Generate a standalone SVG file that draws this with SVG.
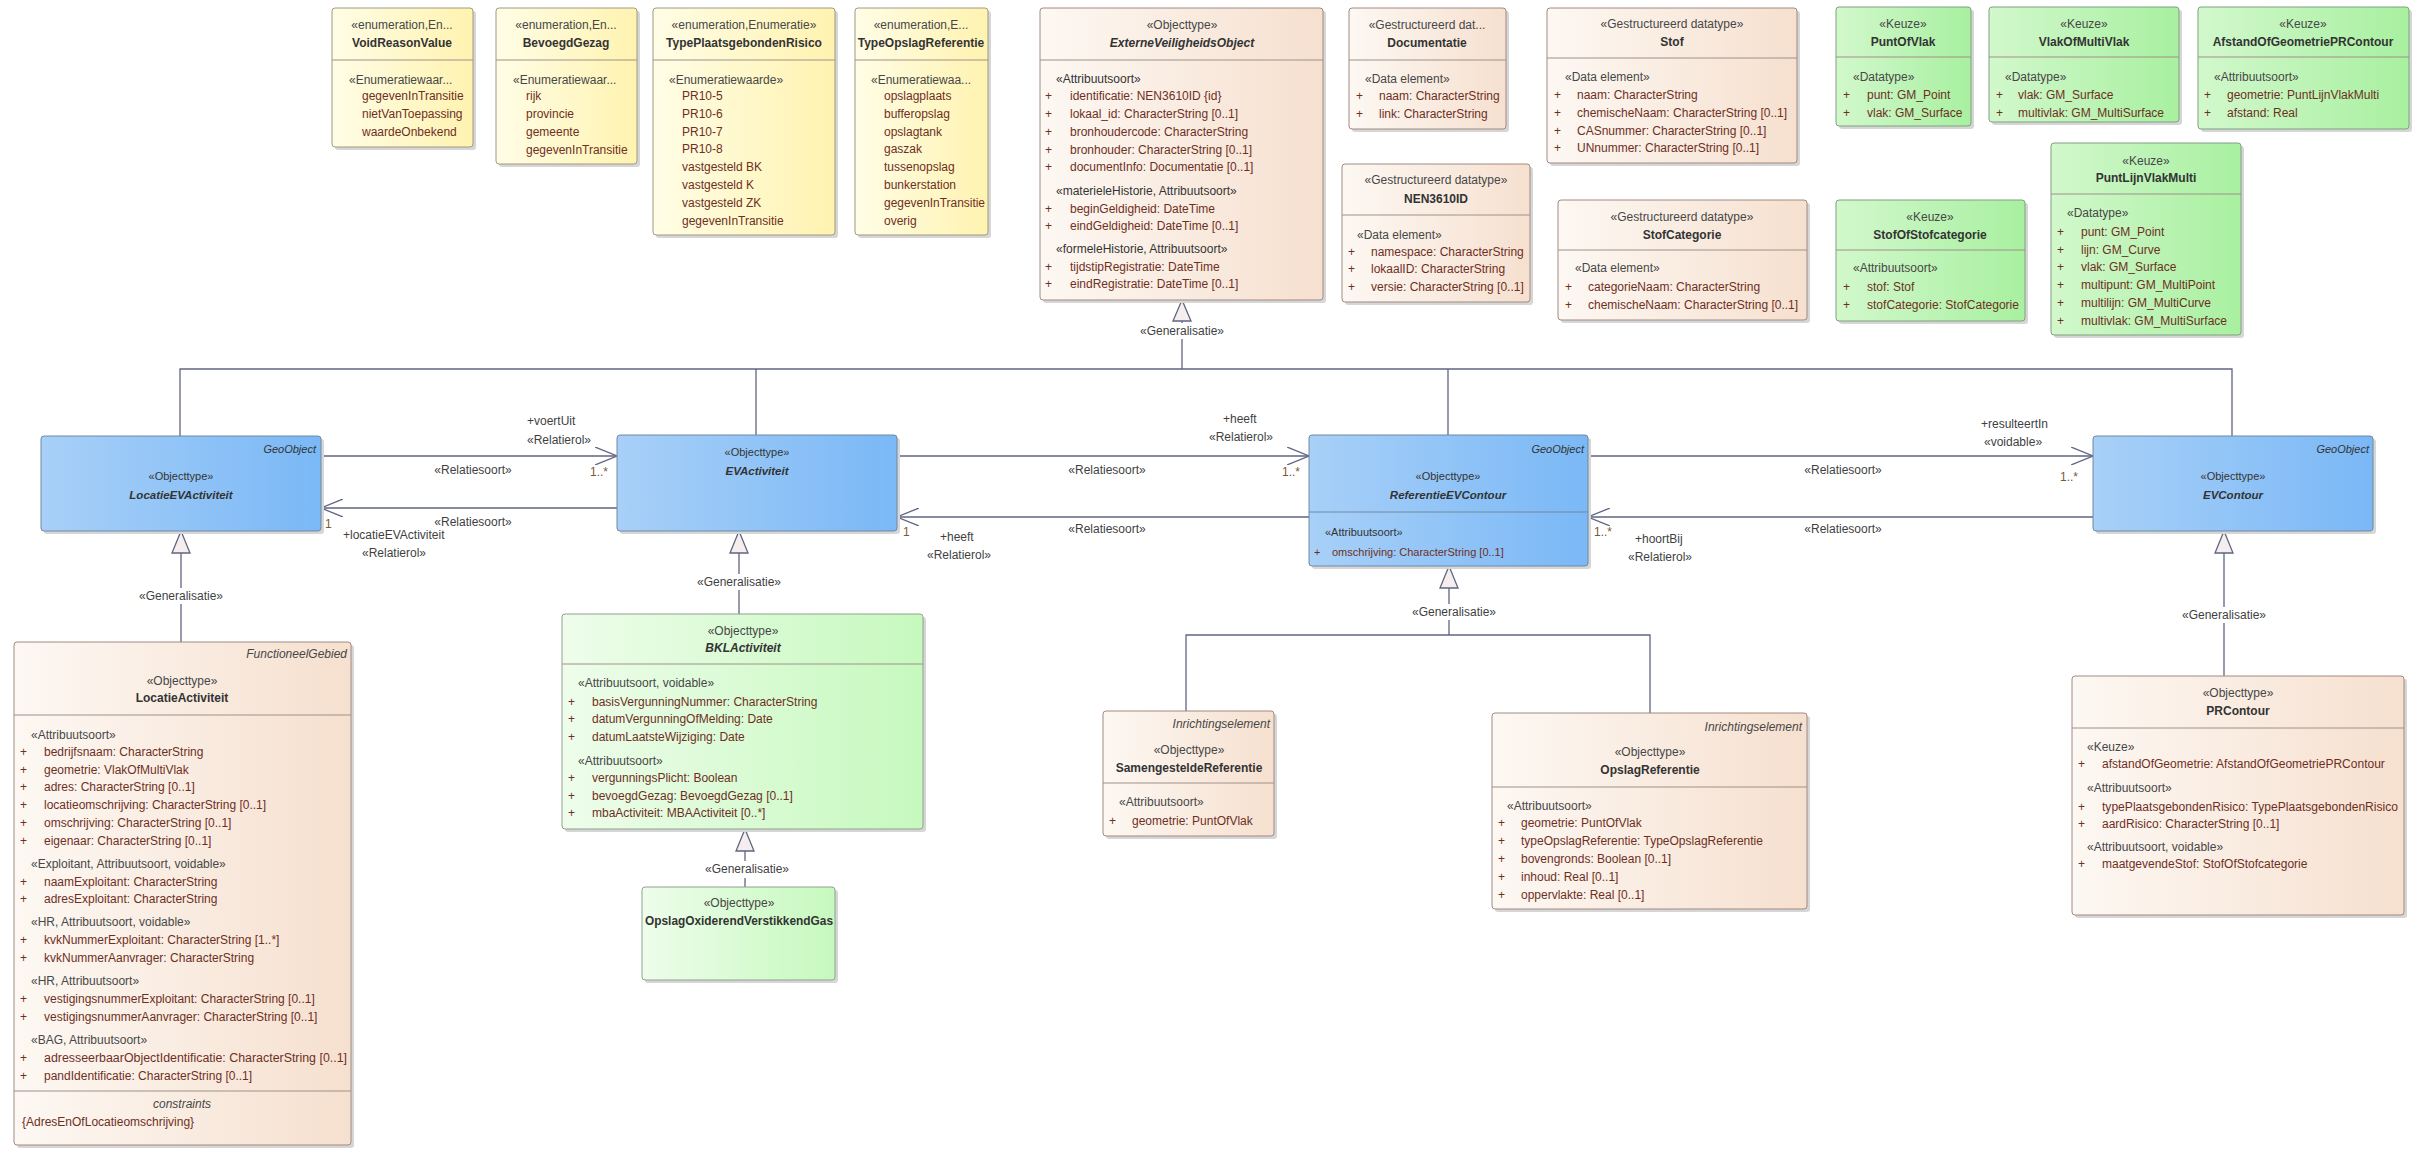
<svg xmlns="http://www.w3.org/2000/svg" width="2428" height="1162" viewBox="0 0 2428 1162">
<defs>
<linearGradient id="gY" x1="0" y1="0" x2="1" y2="0"><stop offset="0" stop-color="#fffde6"/><stop offset="1" stop-color="#fff3b0"/></linearGradient>
<linearGradient id="gB" x1="0" y1="0" x2="1" y2="0"><stop offset="0" stop-color="#fdf8f3"/><stop offset="1" stop-color="#f6e0cf"/></linearGradient>
<linearGradient id="gG" x1="0" y1="0" x2="1" y2="0"><stop offset="0" stop-color="#d2f8cc"/><stop offset="1" stop-color="#a8f0a0"/></linearGradient>
<linearGradient id="gL" x1="0" y1="0" x2="1" y2="0"><stop offset="0" stop-color="#eefdeb"/><stop offset="1" stop-color="#c6f9be"/></linearGradient>
<linearGradient id="gBl" x1="0" y1="0" x2="1" y2="0"><stop offset="0" stop-color="#a8d0f8"/><stop offset="1" stop-color="#7ab8f6"/></linearGradient>
<marker id="open" markerUnits="userSpaceOnUse" viewBox="0 0 22 18" refX="22" refY="9" markerWidth="22" markerHeight="18" orient="auto"><path d="M0,0 L22,9 L0,18" fill="none" stroke="#5f6580" stroke-width="1.3"/></marker>
</defs>
<style>
text{font-family:"Liberation Sans",Arial,sans-serif;font-size:12px;fill:#333}
.m{text-anchor:middle}.e{text-anchor:end}
.b{font-weight:bold}.i{font-style:italic}
.s{fill:#474747}.a{fill:#6e2f1f}
.sm{font-size:11px}
.bn{font-size:11.5px}
.lb{fill:#3f3f3f}.mu{fill:#7a5a30}
.sh{fill:#d6d6d6}
.ry{fill:url(#gY);stroke:#a09a80;stroke-width:1}
.rb{fill:url(#gB);stroke:#a08a80;stroke-width:1}
.rg{fill:url(#gG);stroke:#80a080;stroke-width:1}
.rl{fill:url(#gL);stroke:#90a090;stroke-width:1}
.rbl{fill:url(#gBl);stroke:#7088a0;stroke-width:1}
.dv{stroke:#a09088;stroke-width:1}
.cn{stroke:#5f6580;stroke-width:1.3;fill:none}
.tri{fill:#f6eeee;stroke:#5f6580;stroke-width:1.3}
</style>
<rect width="2428" height="1162" fill="#ffffff"/>

<g id="connectors">
<line class="cn" x1="321" y1="456" x2="617" y2="456" marker-end="url(#open)"/>
<line class="cn" x1="617" y1="508" x2="321" y2="508" marker-end="url(#open)"/>
<line class="cn" x1="897" y1="456" x2="1309" y2="456" marker-end="url(#open)"/>
<line class="cn" x1="1309" y1="517" x2="897" y2="517" marker-end="url(#open)"/>
<line class="cn" x1="1588" y1="456" x2="2093" y2="456" marker-end="url(#open)"/>
<line class="cn" x1="2093" y1="517" x2="1588" y2="517" marker-end="url(#open)"/>
<text class="lb" x="527" y="425">+voertUit</text>
<text class="lb" x="527" y="444">«Relatierol»</text>
<text class="lb m" x="473" y="474">«Relatiesoort»</text>
<text class="mu" x="590" y="476">1..*</text>
<text class="lb m" x="473" y="526">«Relatiesoort»</text>
<text class="mu" x="325" y="528">1</text>
<text class="lb" x="343" y="539">+locatieEVActiviteit</text>
<text class="lb" x="362" y="557">«Relatierol»</text>
<text class="lb" x="1223" y="423">+heeft</text>
<text class="lb" x="1209" y="441">«Relatierol»</text>
<text class="lb m" x="1107" y="474">«Relatiesoort»</text>
<text class="mu" x="1282" y="476">1..*</text>
<text class="lb m" x="1107" y="533">«Relatiesoort»</text>
<text class="mu" x="903" y="536">1</text>
<text class="lb" x="940" y="541">+heeft</text>
<text class="lb" x="927" y="559">«Relatierol»</text>
<text class="lb" x="1981" y="428">+resulteertIn</text>
<text class="lb" x="1984" y="446">«voidable»</text>
<text class="lb m" x="1843" y="474">«Relatiesoort»</text>
<text class="mu" x="2060" y="481">1..*</text>
<text class="lb m" x="1843" y="533">«Relatiesoort»</text>
<text class="mu" x="1594" y="536">1..*</text>
<text class="lb" x="1635" y="543">+hoortBij</text>
<text class="lb" x="1628" y="561">«Relatierol»</text>
<polyline class="cn" points="1182,321 1182,323"/>
<polyline class="cn" points="1182,339 1182,369"/>
<polyline class="cn" points="180,436 180,369 2232,369 2232,436"/>
<line class="cn" x1="756" y1="369" x2="756" y2="435"/>
<line class="cn" x1="1448" y1="369" x2="1448" y2="435"/>
<polygon class="tri" points="1182,300 1173,321 1191,321"/>
<text class="lb m" x="1182" y="335">«Generalisatie»</text>
<line class="cn" x1="181" y1="553" x2="181" y2="588"/>
<line class="cn" x1="181" y1="604" x2="181" y2="642"/>
<polygon class="tri" points="181,531 172,553 190,553"/>
<text class="lb m" x="181" y="600">«Generalisatie»</text>
<line class="cn" x1="739" y1="553" x2="739" y2="574"/>
<line class="cn" x1="739" y1="590" x2="739" y2="614"/>
<polygon class="tri" points="739,531 730,553 748,553"/>
<text class="lb m" x="739" y="586">«Generalisatie»</text>
<line class="cn" x1="1449" y1="588" x2="1449" y2="604"/>
<polyline class="cn" points="1186,711 1186,635 1650,635 1650,713"/>
<line class="cn" x1="1449" y1="620" x2="1449" y2="635"/>
<polygon class="tri" points="1449,566 1440,588 1458,588"/>
<text class="lb m" x="1454" y="616">«Generalisatie»</text>
<line class="cn" x1="2224" y1="553" x2="2224" y2="607"/>
<line class="cn" x1="2224" y1="623" x2="2224" y2="676"/>
<polygon class="tri" points="2224,531 2215,553 2233,553"/>
<text class="lb m" x="2224" y="619">«Generalisatie»</text>
<line class="cn" x1="745" y1="851" x2="745" y2="861"/>
<line class="cn" x1="745" y1="878" x2="745" y2="887"/>
<polygon class="tri" points="745,829 736,851 754,851"/>
<text class="lb m" x="747" y="873">«Generalisatie»</text>
</g>

<g id="VoidReasonValue">
<rect class="sh" x="335" y="11" width="141" height="139" rx="3"/>
<rect class="ry" x="332" y="8" width="141" height="139" rx="3"/>
<line class="dv" x1="332" y1="60" x2="473" y2="60"/>
<text class="s m" x="402" y="29">«enumeration,En...</text>
<text class="b m" x="402" y="47">VoidReasonValue</text>
<text class="s" x="349" y="84">«Enumeratiewaar...</text>
<text class="a" x="362" y="100">gegevenInTransitie</text>
<text class="a" x="362" y="118">nietVanToepassing</text>
<text class="a" x="362" y="136">waardeOnbekend</text>
</g>

<g id="BevoegdGezag">
<rect class="sh" x="499" y="11" width="141" height="156" rx="3"/>
<rect class="ry" x="496" y="8" width="141" height="156" rx="3"/>
<line class="dv" x1="496" y1="60" x2="637" y2="60"/>
<text class="s m" x="566" y="29">«enumeration,En...</text>
<text class="b m" x="566" y="47">BevoegdGezag</text>
<text class="s" x="513" y="84">«Enumeratiewaar...</text>
<text class="a" x="526" y="100">rijk</text>
<text class="a" x="526" y="118">provincie</text>
<text class="a" x="526" y="136">gemeente</text>
<text class="a" x="526" y="154">gegevenInTransitie</text>
</g>

<g id="TypePlaatsgebondenRisico">
<rect class="sh" x="656" y="11" width="182" height="227" rx="3"/>
<rect class="ry" x="653" y="8" width="182" height="227" rx="3"/>
<line class="dv" x1="653" y1="60" x2="835" y2="60"/>
<text class="s m" x="744" y="29">«enumeration,Enumeratie»</text>
<text class="b m" x="744" y="47">TypePlaatsgebondenRisico</text>
<text class="s" x="669" y="84">«Enumeratiewaarde»</text>
<text class="a" x="682" y="100">PR10-5</text>
<text class="a" x="682" y="118">PR10-6</text>
<text class="a" x="682" y="136">PR10-7</text>
<text class="a" x="682" y="153">PR10-8</text>
<text class="a" x="682" y="171">vastgesteld BK</text>
<text class="a" x="682" y="189">vastgesteld K</text>
<text class="a" x="682" y="207">vastgesteld ZK</text>
<text class="a" x="682" y="225">gegevenInTransitie</text>
</g>

<g id="TypeOpslagReferentie">
<rect class="sh" x="858" y="11" width="133" height="227" rx="3"/>
<rect class="ry" x="855" y="8" width="133" height="227" rx="3"/>
<line class="dv" x1="855" y1="60" x2="988" y2="60"/>
<text class="s m" x="921" y="29">«enumeration,E...</text>
<text class="b m" x="921" y="47">TypeOpslagReferentie</text>
<text class="s" x="871" y="84">«Enumeratiewaa...</text>
<text class="a" x="884" y="100">opslagplaats</text>
<text class="a" x="884" y="118">bufferopslag</text>
<text class="a" x="884" y="136">opslagtank</text>
<text class="a" x="884" y="153">gaszak</text>
<text class="a" x="884" y="171">tussenopslag</text>
<text class="a" x="884" y="189">bunkerstation</text>
<text class="a" x="884" y="207" textLength="101" lengthAdjust="spacingAndGlyphs">gegevenInTransitie</text>
<text class="a" x="884" y="225">overig</text>
</g>

<g id="ExterneVeiligheidsObject">
<rect class="sh" x="1043" y="11" width="283" height="292" rx="3"/>
<rect class="rb" x="1040" y="8" width="283" height="292" rx="3"/>
<line class="dv" x1="1040" y1="60" x2="1323" y2="60"/>
<text class="s m" x="1182" y="29">«Objecttype»</text>
<text class="b i m" x="1182" y="47">ExterneVeiligheidsObject</text>
<text x="1056" y="83">«Attribuutsoort»</text>
<text class="a" x="1045" y="100">+</text><text class="a" x="1070" y="100">identificatie: NEN3610ID {id}</text>
<text class="a" x="1045" y="118">+</text><text class="a" x="1070" y="118">lokaal_id: CharacterString [0..1]</text>
<text class="a" x="1045" y="136">+</text><text class="a" x="1070" y="136">bronhoudercode: CharacterString</text>
<text class="a" x="1045" y="154">+</text><text class="a" x="1070" y="154">bronhouder: CharacterString [0..1]</text>
<text class="a" x="1045" y="171">+</text><text class="a" x="1070" y="171">documentInfo: Documentatie [0..1]</text>
<text x="1056" y="195">«materieleHistorie, Attribuutsoort»</text>
<text class="a" x="1045" y="213">+</text><text class="a" x="1070" y="213">beginGeldigheid: DateTime</text>
<text class="a" x="1045" y="230">+</text><text class="a" x="1070" y="230">eindGeldigheid: DateTime [0..1]</text>
<text x="1056" y="253">«formeleHistorie, Attribuutsoort»</text>
<text class="a" x="1045" y="271">+</text><text class="a" x="1070" y="271">tijdstipRegistratie: DateTime</text>
<text class="a" x="1045" y="288">+</text><text class="a" x="1070" y="288">eindRegistratie: DateTime [0..1]</text>
</g>

<g id="Documentatie">
<rect class="sh" x="1352" y="11" width="157" height="121" rx="3"/>
<rect class="rb" x="1349" y="8" width="157" height="121" rx="3"/>
<line class="dv" x1="1349" y1="60" x2="1506" y2="60"/>
<text class="s m" x="1427" y="29">«Gestructureerd dat...</text>
<text class="b m" x="1427" y="47">Documentatie</text>
<text class="s" x="1365" y="83">«Data element»</text>
<text class="a" x="1356" y="100">+</text><text class="a" x="1379" y="100">naam: CharacterString</text>
<text class="a" x="1356" y="118">+</text><text class="a" x="1379" y="118">link: CharacterString</text>
</g>

<g id="NEN3610ID">
<rect class="sh" x="1345" y="167" width="188" height="138" rx="3"/>
<rect class="rb" x="1342" y="164" width="188" height="138" rx="3"/>
<line class="dv" x1="1342" y1="215" x2="1530" y2="215"/>
<text class="s m" x="1436" y="184">«Gestructureerd datatype»</text>
<text class="b m" x="1436" y="203">NEN3610ID</text>
<text class="s" x="1357" y="239">«Data element»</text>
<text class="a" x="1348" y="256">+</text><text class="a" x="1371" y="256">namespace: CharacterString</text>
<text class="a" x="1348" y="273">+</text><text class="a" x="1371" y="273">lokaalID: CharacterString</text>
<text class="a" x="1348" y="291">+</text><text class="a" x="1371" y="291">versie: CharacterString [0..1]</text>
</g>

<g id="Stof">
<rect class="sh" x="1550" y="11" width="250" height="155" rx="3"/>
<rect class="rb" x="1547" y="8" width="250" height="155" rx="3"/>
<line class="dv" x1="1547" y1="58" x2="1797" y2="58"/>
<text class="s m" x="1672" y="28">«Gestructureerd datatype»</text>
<text class="b m" x="1672" y="46">Stof</text>
<text class="s" x="1565" y="81">«Data element»</text>
<text class="a" x="1554" y="99">+</text><text class="a" x="1577" y="99">naam: CharacterString</text>
<text class="a" x="1554" y="117">+</text><text class="a" x="1577" y="117">chemischeNaam: CharacterString [0..1]</text>
<text class="a" x="1554" y="135">+</text><text class="a" x="1577" y="135">CASnummer: CharacterString [0..1]</text>
<text class="a" x="1554" y="152">+</text><text class="a" x="1577" y="152">UNnummer: CharacterString [0..1]</text>
</g>

<g id="StofCategorie">
<rect class="sh" x="1561" y="203" width="249" height="120" rx="3"/>
<rect class="rb" x="1558" y="200" width="249" height="120" rx="3"/>
<line class="dv" x1="1558" y1="250" x2="1807" y2="250"/>
<text class="s m" x="1682" y="221">«Gestructureerd datatype»</text>
<text class="b m" x="1682" y="239">StofCategorie</text>
<text class="s" x="1575" y="272">«Data element»</text>
<text class="a" x="1565" y="291">+</text><text class="a" x="1588" y="291">categorieNaam: CharacterString</text>
<text class="a" x="1565" y="309">+</text><text class="a" x="1588" y="309">chemischeNaam: CharacterString [0..1]</text>
</g>

<g id="PuntOfVlak">
<rect class="sh" x="1839" y="10" width="135" height="119" rx="3"/>
<rect class="rg" x="1836" y="7" width="135" height="119" rx="3"/>
<line class="dv" x1="1836" y1="57" x2="1971" y2="57"/>
<text class="s m" x="1903" y="28">«Keuze»</text>
<text class="b m" x="1903" y="46">PuntOfVlak</text>
<text class="s" x="1853" y="81">«Datatype»</text>
<text class="a" x="1843" y="99">+</text><text class="a" x="1867" y="99">punt: GM_Point</text>
<text class="a" x="1843" y="117">+</text><text class="a" x="1867" y="117">vlak: GM_Surface</text>
</g>

<g id="VlakOfMultiVlak">
<rect class="sh" x="1992" y="10" width="190" height="115" rx="3"/>
<rect class="rg" x="1989" y="7" width="190" height="115" rx="3"/>
<line class="dv" x1="1989" y1="57" x2="2179" y2="57"/>
<text class="s m" x="2084" y="28">«Keuze»</text>
<text class="b m" x="2084" y="46">VlakOfMultiVlak</text>
<text class="s" x="2005" y="81">«Datatype»</text>
<text class="a" x="1996" y="99">+</text><text class="a" x="2018" y="99">vlak: GM_Surface</text>
<text class="a" x="1996" y="117">+</text><text class="a" x="2018" y="117">multivlak: GM_MultiSurface</text>
</g>

<g id="AfstandOfGeometriePRContour">
<rect class="sh" x="2201" y="10" width="211" height="122" rx="3"/>
<rect class="rg" x="2198" y="7" width="211" height="122" rx="3"/>
<line class="dv" x1="2198" y1="57" x2="2409" y2="57"/>
<text class="s m" x="2303" y="28">«Keuze»</text>
<text class="b m" x="2303" y="46">AfstandOfGeometriePRContour</text>
<text class="s" x="2214" y="81">«Attribuutsoort»</text>
<text class="a" x="2204" y="99">+</text><text class="a" x="2227" y="99">geometrie: PuntLijnVlakMulti</text>
<text class="a" x="2204" y="117">+</text><text class="a" x="2227" y="117">afstand: Real</text>
</g>

<g id="PuntLijnVlakMulti">
<rect class="sh" x="2054" y="146" width="190" height="192" rx="3"/>
<rect class="rg" x="2051" y="143" width="190" height="192" rx="3"/>
<line class="dv" x1="2051" y1="194" x2="2241" y2="194"/>
<text class="s m" x="2146" y="165">«Keuze»</text>
<text class="b m" x="2146" y="182">PuntLijnVlakMulti</text>
<text class="s" x="2067" y="217">«Datatype»</text>
<text class="a" x="2057" y="236">+</text><text class="a" x="2081" y="236">punt: GM_Point</text>
<text class="a" x="2057" y="254">+</text><text class="a" x="2081" y="254">lijn: GM_Curve</text>
<text class="a" x="2057" y="271">+</text><text class="a" x="2081" y="271">vlak: GM_Surface</text>
<text class="a" x="2057" y="289">+</text><text class="a" x="2081" y="289">multipunt: GM_MultiPoint</text>
<text class="a" x="2057" y="307">+</text><text class="a" x="2081" y="307">multilijn: GM_MultiCurve</text>
<text class="a" x="2057" y="325">+</text><text class="a" x="2081" y="325">multivlak: GM_MultiSurface</text>
</g>

<g id="StofOfStofcategorie">
<rect class="sh" x="1839" y="203" width="189" height="121" rx="3"/>
<rect class="rg" x="1836" y="200" width="189" height="121" rx="3"/>
<line class="dv" x1="1836" y1="250" x2="2025" y2="250"/>
<text class="s m" x="1930" y="221">«Keuze»</text>
<text class="b m" x="1930" y="239">StofOfStofcategorie</text>
<text class="s" x="1853" y="272">«Attribuutsoort»</text>
<text class="a" x="1843" y="291">+</text><text class="a" x="1867" y="291">stof: Stof</text>
<text class="a" x="1843" y="309">+</text><text class="a" x="1867" y="309" textLength="152" lengthAdjust="spacingAndGlyphs">stofCategorie: StofCategorie</text>
</g>

<g id="LocatieEVActiviteit">
<rect class="sh" x="44" y="439" width="280" height="95" rx="3"/>
<rect class="rbl" x="41" y="436" width="280" height="95" rx="3"/>
<text class="i e" x="316" y="453" style="font-size:11px">GeoObject</text>
<text class="m sm" x="181" y="480">«Objecttype»</text>
<text class="b i m bn" x="181" y="499">LocatieEVActiviteit</text>
</g>

<g id="EVActiviteit">
<rect class="sh" x="620" y="438" width="280" height="96" rx="3"/>
<rect class="rbl" x="617" y="435" width="280" height="96" rx="3"/>
<text class="m sm" x="757" y="456">«Objecttype»</text>
<text class="b i m bn" x="757" y="475">EVActiviteit</text>
</g>

<g id="ReferentieEVContour">
<rect class="sh" x="1312" y="438" width="279" height="131" rx="3"/>
<rect class="rbl" x="1309" y="435" width="279" height="131" rx="3"/>
<line stroke="#7088a0" x1="1309" y1="512" x2="1588" y2="512"/>
<text class="i e" x="1584" y="453" style="font-size:11px">GeoObject</text>
<text class="m sm" x="1448" y="480">«Objecttype»</text>
<text class="b i m bn" x="1448" y="499">ReferentieEVContour</text>
<text class="sm" x="1325" y="536">«Attribuutsoort»</text>
<text class="a sm" x="1314" y="556">+</text><text class="a sm" x="1332" y="556">omschrijving: CharacterString [0..1]</text>
</g>

<g id="EVContour">
<rect class="sh" x="2096" y="439" width="280" height="95" rx="3"/>
<rect class="rbl" x="2093" y="436" width="280" height="95" rx="3"/>
<text class="i e" x="2369" y="453" style="font-size:11px">GeoObject</text>
<text class="m sm" x="2233" y="480">«Objecttype»</text>
<text class="b i m bn" x="2233" y="499">EVContour</text>
</g>

<g id="LocatieActiviteit">
<rect class="sh" x="17" y="645" width="337" height="503" rx="3"/>
<rect class="rb" x="14" y="642" width="337" height="503" rx="3"/>
<line class="dv" x1="14" y1="715" x2="351" y2="715"/>
<line class="dv" x1="14" y1="1091" x2="351" y2="1091"/>
<text class="i e s" x="347" y="658">FunctioneelGebied</text>
<text class="s m" x="182" y="685">«Objecttype»</text>
<text class="b m" x="182" y="702">LocatieActiviteit</text>
<text class="s" x="31" y="739">«Attribuutsoort»</text>
<text class="a" x="20" y="756">+</text><text class="a" x="44" y="756">bedrijfsnaam: CharacterString</text>
<text class="a" x="20" y="774">+</text><text class="a" x="44" y="774">geometrie: VlakOfMultiVlak</text>
<text class="a" x="20" y="791">+</text><text class="a" x="44" y="791">adres: CharacterString [0..1]</text>
<text class="a" x="20" y="809">+</text><text class="a" x="44" y="809">locatieomschrijving: CharacterString [0..1]</text>
<text class="a" x="20" y="827">+</text><text class="a" x="44" y="827">omschrijving: CharacterString [0..1]</text>
<text class="a" x="20" y="845">+</text><text class="a" x="44" y="845">eigenaar: CharacterString [0..1]</text>
<text class="s" x="31" y="868">«Exploitant, Attribuutsoort, voidable»</text>
<text class="a" x="20" y="886">+</text><text class="a" x="44" y="886">naamExploitant: CharacterString</text>
<text class="a" x="20" y="903">+</text><text class="a" x="44" y="903">adresExploitant: CharacterString</text>
<text class="s" x="31" y="926">«HR, Attribuutsoort, voidable»</text>
<text class="a" x="20" y="944">+</text><text class="a" x="44" y="944">kvkNummerExploitant: CharacterString [1..*]</text>
<text class="a" x="20" y="962">+</text><text class="a" x="44" y="962">kvkNummerAanvrager: CharacterString</text>
<text class="s" x="31" y="985">«HR, Attribuutsoort»</text>
<text class="a" x="20" y="1003">+</text><text class="a" x="44" y="1003">vestigingsnummerExploitant: CharacterString [0..1]</text>
<text class="a" x="20" y="1021">+</text><text class="a" x="44" y="1021">vestigingsnummerAanvrager: CharacterString [0..1]</text>
<text class="s" x="31" y="1044">«BAG, Attribuutsoort»</text>
<text class="a" x="20" y="1062">+</text><text class="a" x="44" y="1062" textLength="303" lengthAdjust="spacingAndGlyphs">adresseerbaarObjectIdentificatie: CharacterString [0..1]</text>
<text class="a" x="20" y="1080">+</text><text class="a" x="44" y="1080">pandIdentificatie: CharacterString [0..1]</text>
<text class="i m s" x="182" y="1108">constraints</text>
<text class="a" x="22" y="1126">{AdresEnOfLocatieomschrijving}</text>
</g>

<g id="BKLActiviteit">
<rect class="sh" x="565" y="617" width="361" height="215" rx="3"/>
<rect class="rl" x="562" y="614" width="361" height="215" rx="3"/>
<line class="dv" x1="562" y1="664" x2="923" y2="664"/>
<text class="s m" x="743" y="635">«Objecttype»</text>
<text class="b i m" x="743" y="652">BKLActiviteit</text>
<text class="s" x="578" y="687">«Attribuutsoort, voidable»</text>
<text class="a" x="568" y="706">+</text><text class="a" x="592" y="706">basisVergunningNummer: CharacterString</text>
<text class="a" x="568" y="723">+</text><text class="a" x="592" y="723">datumVergunningOfMelding: Date</text>
<text class="a" x="568" y="741">+</text><text class="a" x="592" y="741">datumLaatsteWijziging: Date</text>
<text class="s" x="578" y="765">«Attribuutsoort»</text>
<text class="a" x="568" y="782">+</text><text class="a" x="592" y="782">vergunningsPlicht: Boolean</text>
<text class="a" x="568" y="800">+</text><text class="a" x="592" y="800">bevoegdGezag: BevoegdGezag [0..1]</text>
<text class="a" x="568" y="817">+</text><text class="a" x="592" y="817">mbaActiviteit: MBAActiviteit [0..*]</text>
</g>

<g id="OpslagOxiderendVerstikkendGas">
<rect class="sh" x="645" y="890" width="193" height="93" rx="3"/>
<rect class="rl" x="642" y="887" width="193" height="93" rx="3"/>
<text class="s m" x="739" y="907">«Objecttype»</text>
<text class="b m" x="739" y="925" textLength="188" lengthAdjust="spacingAndGlyphs">OpslagOxiderendVerstikkendGas</text>
</g>

<g id="SamengesteldeReferentie">
<rect class="sh" x="1106" y="714" width="171" height="125" rx="3"/>
<rect class="rb" x="1103" y="711" width="171" height="125" rx="3"/>
<line class="dv" x1="1103" y1="783" x2="1274" y2="783"/>
<text class="i e s" x="1270" y="728">Inrichtingselement</text>
<text class="s m" x="1189" y="754">«Objecttype»</text>
<text class="b m" x="1189" y="772">SamengesteldeReferentie</text>
<text class="s" x="1119" y="806">«Attribuutsoort»</text>
<text class="a" x="1109" y="825">+</text><text class="a" x="1132" y="825">geometrie: PuntOfVlak</text>
</g>

<g id="OpslagReferentie">
<rect class="sh" x="1495" y="716" width="315" height="196" rx="3"/>
<rect class="rb" x="1492" y="713" width="315" height="196" rx="3"/>
<line class="dv" x1="1492" y1="787" x2="1807" y2="787"/>
<text class="i e s" x="1802" y="731">Inrichtingselement</text>
<text class="s m" x="1650" y="756">«Objecttype»</text>
<text class="b m" x="1650" y="774">OpslagReferentie</text>
<text class="s" x="1507" y="810">«Attribuutsoort»</text>
<text class="a" x="1498" y="827">+</text><text class="a" x="1521" y="827">geometrie: PuntOfVlak</text>
<text class="a" x="1498" y="845">+</text><text class="a" x="1521" y="845">typeOpslagReferentie: TypeOpslagReferentie</text>
<text class="a" x="1498" y="863">+</text><text class="a" x="1521" y="863">bovengronds: Boolean [0..1]</text>
<text class="a" x="1498" y="881">+</text><text class="a" x="1521" y="881">inhoud: Real [0..1]</text>
<text class="a" x="1498" y="899">+</text><text class="a" x="1521" y="899">oppervlakte: Real [0..1]</text>
</g>

<g id="PRContour">
<rect class="sh" x="2075" y="679" width="332" height="239" rx="3"/>
<rect class="rb" x="2072" y="676" width="332" height="239" rx="3"/>
<line class="dv" x1="2072" y1="728" x2="2404" y2="728"/>
<text class="s m" x="2238" y="697">«Objecttype»</text>
<text class="b m" x="2238" y="715">PRContour</text>
<text class="s" x="2087" y="751">«Keuze»</text>
<text class="a" x="2078" y="768">+</text><text class="a" x="2102" y="768">afstandOfGeometrie: AfstandOfGeometriePRContour</text>
<text class="s" x="2087" y="792">«Attribuutsoort»</text>
<text class="a" x="2078" y="811">+</text><text class="a" x="2102" y="811" textLength="296" lengthAdjust="spacingAndGlyphs">typePlaatsgebondenRisico: TypePlaatsgebondenRisico</text>
<text class="a" x="2078" y="828">+</text><text class="a" x="2102" y="828">aardRisico: CharacterString [0..1]</text>
<text class="s" x="2087" y="851">«Attribuutsoort, voidable»</text>
<text class="a" x="2078" y="868">+</text><text class="a" x="2102" y="868">maatgevendeStof: StofOfStofcategorie</text>
</g>
</svg>
